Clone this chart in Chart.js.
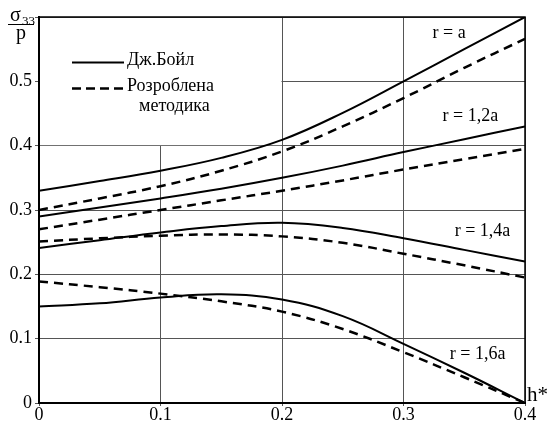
<!DOCTYPE html>
<html>
<head>
<meta charset="utf-8">
<script src="https://cdn.jsdelivr.net/npm/chart.js@4.4.1/dist/chart.umd.min.js"></script>
<style>
  html, body { margin: 0; padding: 0; background: #fff; }
  #wrap { width: 551px; height: 423px; }
</style>
</head>
<body>
<div id="wrap"><canvas id="stressChart" width="551" height="423"></canvas></div>
<script>
// h* values along the x axis
const hValues = [0, 0.05, 0.1, 0.15, 0.2, 0.25, 0.3, 0.35, 0.4];

// Дж.Бойл (solid)
const boyleA   = [0.33, 0.345, 0.361, 0.381, 0.409, 0.451, 0.50, 0.55, 0.60];
const boyle12a = [0.29, 0.304, 0.318, 0.333, 0.35, 0.369, 0.39, 0.41, 0.43];
const boyle14a = [0.241, 0.253, 0.265, 0.275, 0.28, 0.272, 0.256, 0.238, 0.22];
const boyle16a = [0.15, 0.155, 0.164, 0.169, 0.161, 0.135, 0.092, 0.047, 0.0];

// Розроблена методика (dashed)
const methodA   = [0.30, 0.318, 0.337, 0.361, 0.391, 0.43, 0.474, 0.521, 0.566];
const method12a = [0.27, 0.285, 0.30, 0.315, 0.33, 0.346, 0.363, 0.379, 0.395];
const method14a = [0.251, 0.256, 0.26, 0.262, 0.259, 0.249, 0.232, 0.214, 0.195];
const method16a = [0.189, 0.18, 0.17, 0.158, 0.142, 0.115, 0.079, 0.04, 0.0];

const xTickLabels = ['0', '0.1', '0.2', '0.3', '0.4'];
const yTickLabels = ['0', '0.1', '0.2', '0.3', '0.4', '0.5', ''];

const legendLabels = ['Дж.Бойл', 'Розроблена', 'методика'];
const curveLabels = [
  { text: 'r = a',    h: 0.3375, v: 0.575 },
  { text: 'r = 1,2a', h: 0.355,  v: 0.445 },
  { text: 'r = 1,4a', h: 0.365,  v: 0.267 },
  { text: 'r = 1,6a', h: 0.361,  v: 0.076 }
];

const FONT = '"Liberation Serif", "DejaVu Serif", serif';

function toPoints(values) {
  return values.map((v, i) => ({ x: hValues[i], y: v }));
}

function series(values, dashed) {
  return {
    data: toPoints(values),
    borderColor: '#000',
    borderWidth: dashed ? 2.5 : 2,
    borderDash: dashed ? [9, 6] : [],
    pointRadius: 0,
    fill: false,
    tension: 0.4
  };
}

const overlay = {
  id: 'overlay',
  beforeDatasetsDraw(chart) {
    const { ctx, chartArea, scales: { x, y } } = chart;
    // white legend panel covers the grid in the top-left cell block
    const right = x.getPixelForValue(0.2);
    const bottom = y.getPixelForValue(0.4);
    ctx.save();
    ctx.fillStyle = '#fff';
    ctx.fillRect(chartArea.left + 1, chartArea.top + 1, right - chartArea.left - 1.5, bottom - chartArea.top - 1.5);
    ctx.restore();
  },
  afterDraw(chart) {
    const { ctx, chartArea, scales: { x, y } } = chart;
    ctx.save();

    // legend
    ctx.strokeStyle = '#000';
    ctx.lineWidth = 2;
    ctx.beginPath();
    ctx.moveTo(72, 62.5);
    ctx.lineTo(124, 62.5);
    ctx.stroke();
    ctx.lineWidth = 2.5;
    ctx.setLineDash([9, 5]);
    ctx.beginPath();
    ctx.moveTo(72, 88.5);
    ctx.lineTo(124, 88.5);
    ctx.stroke();
    ctx.setLineDash([]);

    ctx.fillStyle = '#000';
    ctx.font = '18px ' + FONT;
    ctx.textAlign = 'left';
    ctx.textBaseline = 'middle';
    ctx.fillText(legendLabels[0], 127, 60);
    ctx.fillText(legendLabels[1], 127, 86);
    ctx.fillText(legendLabels[2], 139, 106);

    // curve labels
    ctx.textAlign = 'center';
    curveLabels.forEach(l => {
      ctx.fillText(l.text, x.getPixelForValue(l.h), y.getPixelForValue(l.v));
    });

    // axis titles
    ctx.textBaseline = 'alphabetic';
    ctx.textAlign = 'left';
    ctx.font = '21px ' + FONT;
    ctx.fillText('h*', chartArea.right + 2, 401);

    ctx.font = '20px ' + FONT;
    ctx.fillText('σ', 10, 21);
    ctx.font = '13px ' + FONT;
    ctx.fillText('33', 22, 25);
    ctx.font = '20px ' + FONT;
    ctx.textAlign = 'center';
    ctx.fillText('p', 21, 39);
    ctx.lineWidth = 1;
    ctx.beginPath();
    ctx.moveTo(8, 24.5);
    ctx.lineTo(34, 24.5);
    ctx.stroke();

    // top and right frame
    ctx.lineWidth = 1.5;
    ctx.beginPath();
    ctx.moveTo(chartArea.left, chartArea.top);
    ctx.lineTo(chartArea.right, chartArea.top);
    ctx.lineTo(chartArea.right, chartArea.bottom);
    ctx.stroke();
    ctx.restore();
  }
};

const ctx = document.getElementById('stressChart').getContext('2d');

new Chart(ctx, {
  type: 'line',
  data: {
    datasets: [
      series(boyleA, false),
      series(methodA, true),
      series(boyle12a, false),
      series(method12a, true),
      series(boyle14a, false),
      series(method14a, true),
      series(boyle16a, false),
      series(method16a, true)
    ]
  },
  options: {
    responsive: false,
    animation: false,
    layout: { padding: { top: 17, right: 26, left: 0, bottom: 0 } },
    plugins: { legend: { display: false }, tooltip: { enabled: false } },
    scales: {
      x: {
        type: 'linear',
        min: 0,
        max: 0.4,
        afterFit: scale => { scale.height = 20; },
        ticks: {
          stepSize: 0.1,
          color: '#000',
          padding: 0,
          maxRotation: 0,
          font: { family: FONT, size: 18, lineHeight: 1 },
          callback: (v, i) => xTickLabels[i]
        },
        grid: { color: '#555', lineWidth: 1, tickLength: 3 },
        border: { display: true, color: '#000', width: 2 }
      },
      y: {
        min: 0,
        max: 0.6,
        afterFit: scale => { scale.width = 39; },
        ticks: {
          stepSize: 0.1,
          color: '#000',
          padding: 3,
          font: { family: FONT, size: 18 },
          callback: (v, i) => yTickLabels[i]
        },
        grid: { color: '#555', lineWidth: 1, tickLength: 4 },
        border: { display: true, color: '#000', width: 2 }
      }
    }
  },
  plugins: [overlay]
});
</script>
</body>
</html>
